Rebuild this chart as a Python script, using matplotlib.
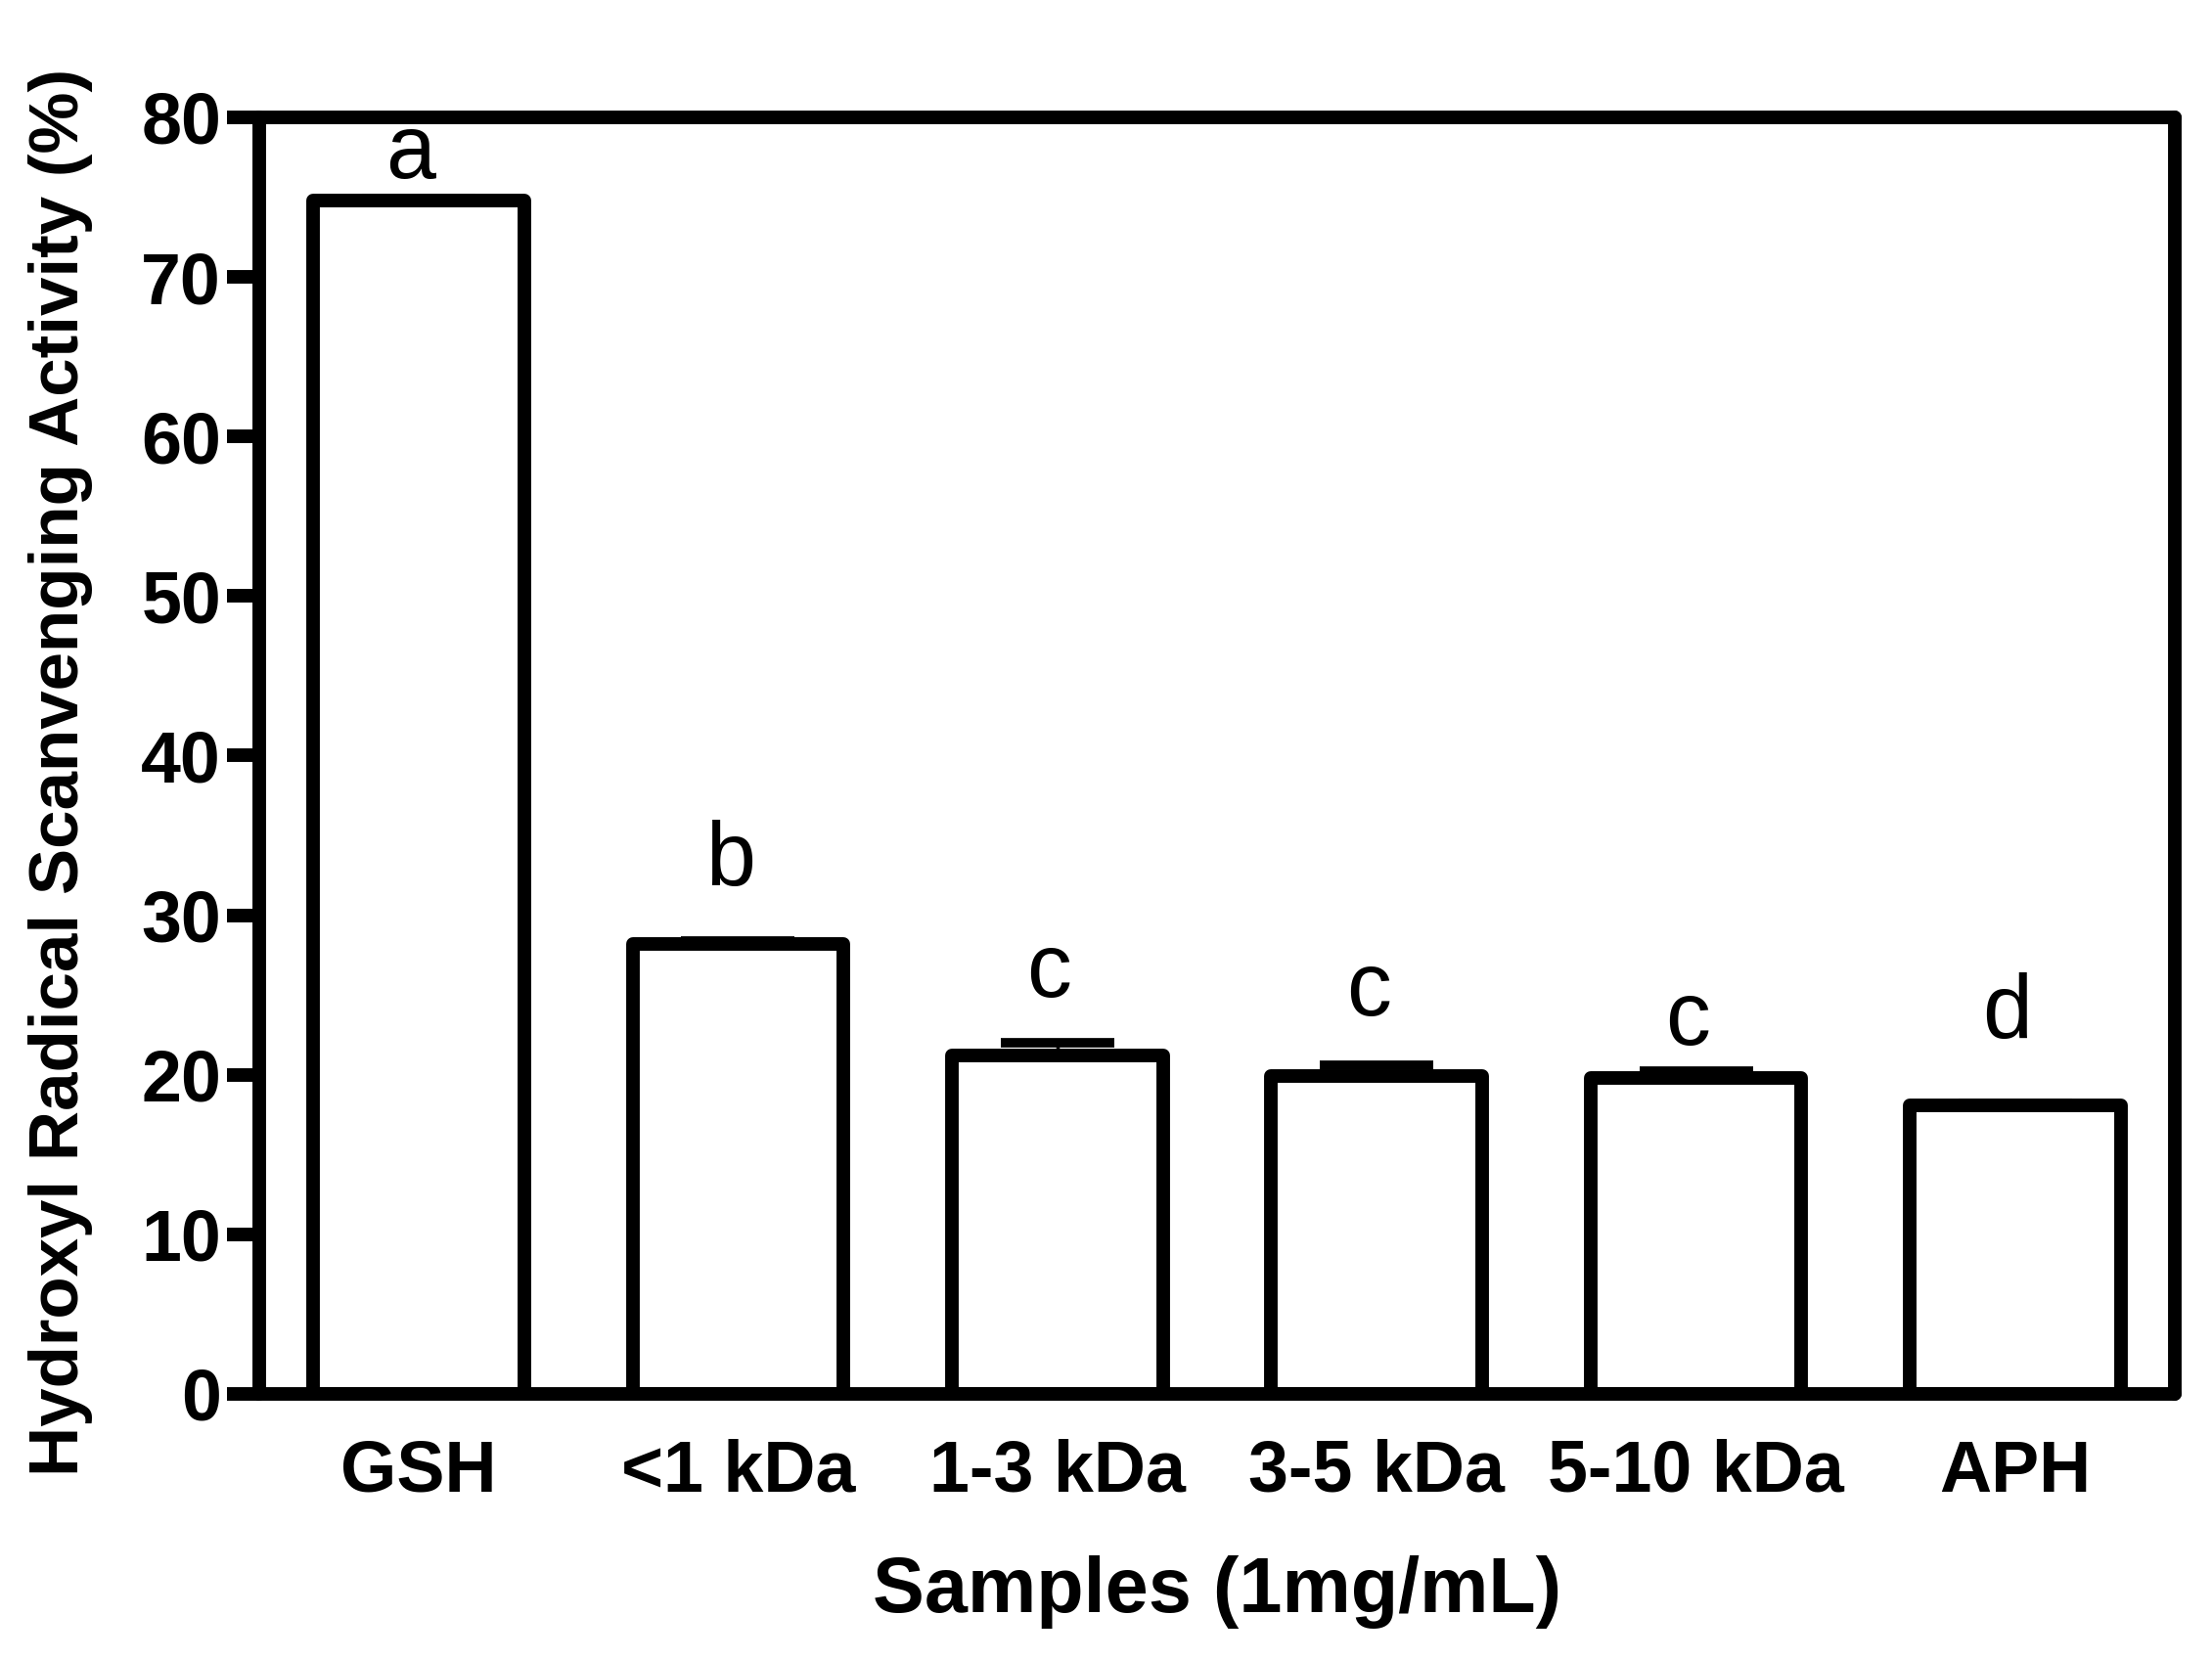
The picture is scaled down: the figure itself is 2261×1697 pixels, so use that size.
import numpy as np
import matplotlib
matplotlib.use("Agg")
import matplotlib.pyplot as plt

plt.rcParams['font.family'] = ['Liberation Sans', 'DejaVu Sans']

samples = ['GSH', '<1 kDa', '1-3 kDa', '3-5 kDa', '5-10 kDa', 'APH']
activity = [74.8, 28.2, 21.2, 19.9, 19.8, 18.1]
sd = [0.1, 0.2, 0.8, 0.7, 0.4, 0.1]
letters = ['a', 'b', 'c', 'c', 'c', 'd']
letter_y = [76.2, 31.9, 24.9, 23.7, 21.9, 22.3]

fig = plt.figure(figsize=(22.61, 16.97), dpi=100)
ax = fig.add_axes([0.1172, 0.1603, 0.866, 0.769])

x = np.arange(len(samples))
lw = 10

# error bars first so the bar outline sits on top
ax.errorbar(x, activity, yerr=[np.zeros(len(sd)), sd], fmt='none',
            ecolor='black', elinewidth=2.5, capsize=42, capthick=7, zorder=2)
bars = ax.bar(x, activity, width=0.66, color='white', edgecolor='black',
              linewidth=lw, zorder=3)
for b in bars:
    b.set_joinstyle('round')

for xi, lab, yl in zip(x, letters, letter_y):
    ax.annotate(lab, (xi, yl), xytext=(-6, 0), textcoords='offset points',
                ha='center', va='baseline', fontsize=66)

ax.set_xlim(-0.5, 5.5)
ax.set_ylim(0, 80)
ax.set_yticks(np.arange(0, 81, 10))
ax.set_xticks(x)
ax.set_xticklabels(samples, fontsize=53, fontweight='bold')
ax.tick_params(axis='y', length=24, width=lw, labelsize=53, pad=4)
ax.tick_params(axis='x', length=0, pad=33)
for t in ax.get_yticklabels():
    t.set_fontweight('bold')

for s in ax.spines.values():
    s.set_linewidth(lw)
    s.set_capstyle('round')
    s.set_zorder(4)

ax.set_ylabel('Hydroxyl Radical Scanvenging Activity (%)', fontsize=51,
              fontweight='bold')
ax.yaxis.set_label_coords(-0.087, 0.487)
ax.set_xlabel('Samples (1mg/mL)', fontsize=57, fontweight='bold', labelpad=36)

fig.savefig('out.png', dpi=100)
